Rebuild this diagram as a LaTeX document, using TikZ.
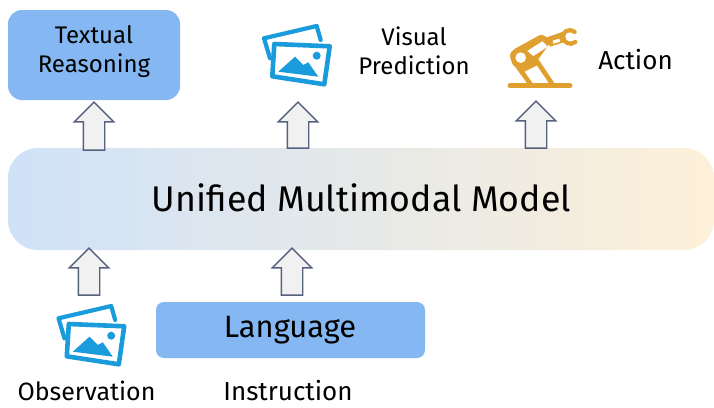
\documentclass[tikz,border=0pt]{standalone}
\usepackage{fontspec}
\setmainfont{Fira Sans}
\usetikzlibrary{shapes.arrows}
\definecolor{boxblue}{HTML}{85B8F2}
\definecolor{iconblue}{HTML}{1A9BDC}
\definecolor{robotgold}{HTML}{E0A030}
\definecolor{arrowedge}{HTML}{56617E}
\definecolor{arrowfill}{HTML}{F1F1F1}
\definecolor{modelleft}{HTML}{CFE2F8}
\definecolor{modelright}{HTML}{FDF0D8}
\tikzset{
  x=1pt,y=-1pt,
  label text/.style={font=\fontsize{24}{29}\selectfont,align=center,text=black,inner sep=0},
  bottom label/.style={font=\fontsize{25}{30}\selectfont,text=black,inner sep=0},
  blue box/.style={fill=boxblue,draw=none,anchor=center,inner sep=0},
  up arrow/.style={single arrow,draw=arrowedge,fill=arrowfill,line width=1.4pt,shape border rotate=90,
    minimum width=38pt,single arrow head extend=9pt,single arrow tip angle=90,inner xsep=10pt,inner ysep=0pt,anchor=center},
  photo/.pic={
    \draw[iconblue,line width=4.6pt,line join=round] (274.3,44)--(329.7,46.3)--(324.3,84.3)--(272.3,76.3)--cycle;
    \draw[iconblue,line width=4.2pt,line join=round,line cap=round] (270,58.3)--(264,38.3)--(316.7,26)--(320.7,40);
    \fill[iconblue] (278.3,71.7)--(295,56.7)--(303.3,65)--(308.3,62.3)--(318.3,76.7)--cycle;
    \fill[iconblue] (316.7,55.7) circle (4);
  },
  robot/.pic={
    \begin{scope}[shift={(500,20)},x=.3333pt,y=-.3333pt]
    \draw[robotgold,line width=5pt,line cap=round] (30,197)--(210,197);
    \draw[robotgold,line width=4.6pt] (50,135)--(95,197) (105,115)--(160,197) (68,150)--(108,130);
    \fill[robotgold,rounded corners=3pt] (28,105)--(38,90)--(125,42)--(155,62)--(112,122)--(70,145)--(40,140)--cycle;
    \fill[robotgold] (140,52)--(190,35)--(197,65)--(150,80)--cycle;
    \fill[white] (62,113) circle (16);
    \fill[white] (82,93)--(127,64)--(143,80)--(100,108)--cycle;
    \fill[white] (158,62)--(178,56)--(180,65)--(160,71)--cycle;
    \draw[robotgold,line width=4.2pt,line cap=round] (224,36)..controls (205,22) and (185,38)..(190,52)..controls (190,68) and (210,78)..(226,66);
    \end{scope}
  }
}
\begin{document}
\begin{tikzpicture}
\useasboundingbox (0,0) rectangle (714,407);
\node[blue box,minimum width=172pt,minimum height=90pt,rounded corners=14pt] (reason) at (94,55) {};
\node[label text] (reasontext) at (94,52) {Textual\\Reasoning};
\node[minimum width=706pt,minimum height=102pt,rounded corners=30pt,left color=modelleft,right color=modelright,draw=none,inner sep=0] (model) at (361,199) {};
\node[font=\fontsize{35.7}{40}\selectfont,inner sep=0] (modeltext) at (361.5,198) {Unified Multimodal Model};
\node[blue box,minimum width=269pt,minimum height=56pt,rounded corners=8pt] (language) at (290.5,330) {};
\node[font=\fontsize{30.8}{36}\selectfont,inner sep=0] (languagetext) at (290,330) {Language};
\node[label text] (visual) at (414,51) {Visual\\Prediction};
\node[label text,font=\fontsize{26}{30}\selectfont] (action) at (635.5,60) {Action};
\node[bottom label] (observation) at (86.5,391) {Observation};
\node[bottom label,font=\fontsize{26}{30}\selectfont] (instruction) at (288,391) {Instruction};
\pic {photo};
\pic[shift={(-205.5,280)}] {photo};
\pic {robot};
\node[up arrow,minimum height=48pt] (a1) at (94,131.5) {};
\node[up arrow,minimum height=46pt] (a2) at (298,130.5) {};
\node[up arrow,minimum height=47pt] (a3) at (536,130) {};
\node[up arrow,minimum height=47pt] (a4) at (89,277) {};
\node[up arrow,minimum height=47pt] (a5) at (292,277) {};
\end{tikzpicture}
\end{document}
